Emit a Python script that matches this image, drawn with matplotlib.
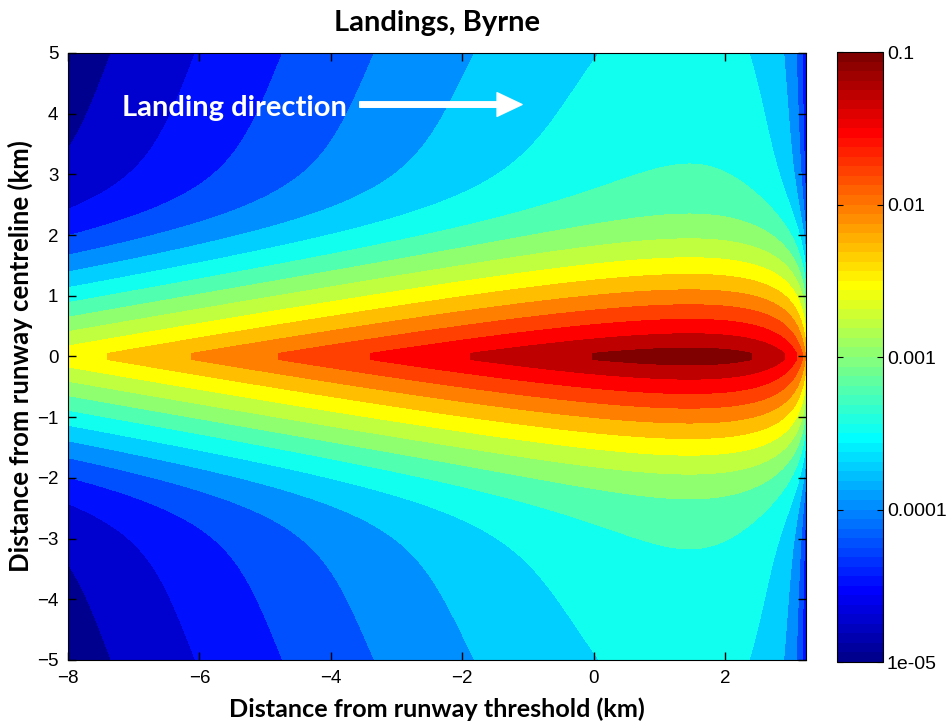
import numpy as np
import matplotlib
matplotlib.use("Agg")
import matplotlib.pyplot as plt
from matplotlib.colors import ListedColormap, LogNorm
from matplotlib.cm import ScalarMappable
from matplotlib.patches import FancyArrowPatch

# Byrne-type landing crash location density (per km^2)
# f = scale * d * exp(-d / decay) * [(1 - q) exp(-r/w_core) + q exp(-r/w_tail)]
# with d = x_end - x and r = max(|y| - y_flat, 0)
x_end = 3.275
decay = 1.82
scale = 0.139
y_flat = 0.05
w_core = 0.405
w_tail = 6.5
tail_frac = 0.0066

# colour bands, 4 per decade, centred on 1e-5 ... 1e-1
band_centres = np.arange(-5, -0.99, 0.25)
cbar_ticks = [1e-5, 1e-4, 1e-3, 1e-2, 1e-1]
cbar_labels = ["1e-05", "0.0001", "0.001", "0.01", "0.1"]
x_ticks = [-8, -6, -4, -2, 0, 2]
y_ticks = [-5, -4, -3, -2, -1, 0, 1, 2, 3, 4, 5]


def matlab_jet(n=64):
    q = int(np.ceil(n / 4))
    u = np.concatenate([np.arange(1, q + 1) / q, np.ones(q - 1), np.arange(q, 0, -1) / q])
    g = int(np.ceil(q / 2)) - int(n % 4 == 1) + np.arange(1, len(u) + 1)
    cmap = np.zeros((n, 3))
    for col, idx in ((0, g + q), (1, g), (2, g - q)):
        ok = (idx >= 1) & (idx <= n)
        cmap[idx[ok] - 1, col] = u[ok]
    return cmap


jet64 = matlab_jet(64)
nb = len(band_centres)
band_colours = [tuple(c) for c in jet64[np.round(np.arange(nb) * 63 / (nb - 1)).astype(int)]]
bounds = np.concatenate([[-20], band_centres[1:] - 0.125, [5]])

x = np.linspace(-8, 3.25, 1126)
y = np.linspace(-5, 5, 1001)
X, Y = np.meshgrid(x, y)
d = x_end - X
r = np.clip(np.abs(Y) - y_flat, 0, None)
lateral = (1 - tail_frac) * np.exp(-r / w_core) + tail_frac * np.exp(-r / w_tail)
dens = scale * d * np.exp(-d / decay) * lateral

fig = plt.figure(figsize=(9.52, 7.27), dpi=100)
ax = fig.add_axes([0.0714, 0.0922, 0.7752, 0.835])
ax.contourf(X, Y, np.log10(dens), levels=bounds, colors=band_colours, antialiased=False)
ax.set_xlim(-8, 3.23)
ax.set_ylim(-5, 5)
ax.set_xticks(x_ticks)
ax.set_yticks(y_ticks)
ax.tick_params(direction="in", length=6, width=1, top=True, right=True,
               labelsize=13.5, pad=7)
for lab in ax.get_xticklabels() + ax.get_yticklabels():
    lab.set_family("Liberation Sans")

ax.set_title("Landings, Byrne", fontsize=21, fontweight="bold", family="Lato", pad=16)
ax.set_xlabel("Distance from runway threshold (km)", fontsize=18.2, fontweight="bold",
              family="Lato", labelpad=8)
ax.set_ylabel("Distance from runway centreline (km)", fontsize=18.5, fontweight="bold",
              family="Lato", labelpad=3)

ax.text(-7.18, 4.1, "Landing direction", color="white", fontsize=21,
        fontweight="bold", family="Lato", va="center", ha="left")
arrow = FancyArrowPatch((-3.56, 4.15), (-1.09, 4.15),
                        arrowstyle="simple,head_length=1.0,head_width=0.95,tail_width=0.22",
                        mutation_scale=18, color="white", shrinkA=0, shrinkB=0)
ax.add_patch(arrow)

cax = fig.add_axes([0.879, 0.0894, 0.0483, 0.839])
sm = ScalarMappable(norm=LogNorm(1e-5, 1e-1), cmap=ListedColormap(jet64))
cb = fig.colorbar(sm, cax=cax, ticks=cbar_ticks)
cb.ax.minorticks_off()
cb.ax.set_yticklabels(cbar_labels)
cb.ax.tick_params(direction="in", length=4, left=True, right=True, labelsize=14, pad=3)
for lab in cb.ax.get_yticklabels():
    lab.set_family("Liberation Sans")

fig.savefig("out.png", dpi=100)
plt.close(fig)
